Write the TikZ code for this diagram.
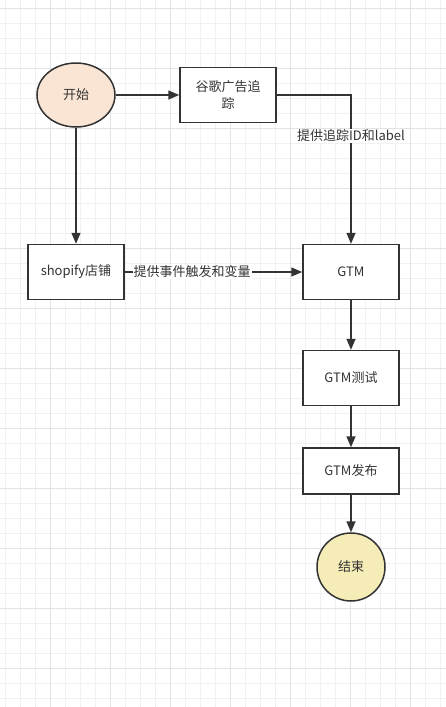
\documentclass[tikz,border=0pt]{standalone}
\usepackage{xcolor}
\usepackage{fontspec}
\setmainfont{Noto Sans CJK SC}
\usepackage{tikz}
\usetikzlibrary{calc}
\usetikzlibrary{arrows.meta}
\usetikzlibrary{shapes.geometric}

\definecolor{inkgray}{HTML}{333333}
\definecolor{gridminor}{HTML}{F1F1F1}
\definecolor{gridmajor}{HTML}{E3E3E3}
\definecolor{startfill}{HTML}{FAE4D3}
\definecolor{endfill}{HTML}{F5ECB8}

\tikzset{
  procbox/.style={draw=inkgray, line width=1.5pt, fill=white, minimum width=96pt,
    minimum height=55pt, align=center, text=inkgray, font=\fontsize{13}{17}\selectfont},
  startnode/.style={ellipse, draw=inkgray, line width=1.5pt, fill=startfill,
    minimum width=78pt, minimum height=64pt, text=inkgray, font=\fontsize{13}{16}\selectfont},
  endnode/.style={circle, draw=inkgray, line width=1.5pt, fill=endfill,
    minimum size=68pt, text=inkgray, font=\fontsize{13}{16}\selectfont},
  flowline/.style={draw=inkgray, line width=1.5pt, -{Triangle[length=11pt,width=9pt]}},
  edgelabel/.style={fill=white, inner sep=1pt, text=inkgray, font=\fontsize{13}{16}\selectfont}
}

\begin{document}
\begin{tikzpicture}[x=1pt, y=-1pt]
                \useasboundingbox (0,0) rectangle (446,707);
                \fill[white] (0,0) rectangle (446,707);

                % Drawing background grid
                \foreach \k in {0,...,29} {
                  \pgfmathsetmacro{\gx}{5+15*\k}
                  \draw[gridminor, line width=0.8pt] (\gx,0) -- (\gx,707);
                }
                \foreach \k in {0,...,46} {
                  \pgfmathsetmacro{\gy}{8+15*\k}
                  \draw[gridminor, line width=0.8pt] (0,\gy) -- (446,\gy);
                }
                \foreach \gx in {50,110,...,410}
                  \draw[gridmajor, line width=0.8pt] (\gx,0) -- (\gx,707);
                \foreach \gy in {8,68,...,700}
                  \draw[gridmajor, line width=0.8pt] (0,\gy) -- (446,\gy);

                % Drawing start and end
                \node[startnode] (start) at (76,95) {开始};
                \node[endnode] (finish) at (351,567) {结束};

                % Drawing process boxes
                \node[procbox] (gads) at (228,95) {谷歌广告追\\踪};
                \node[procbox] (shop) at (76,272) {shopify店铺};
                \node[procbox] (gtm) at (351,272) {GTM};
                \node[procbox] (gtmtest) at (351,378) {GTM测试};
                \node[procbox, minimum height=46pt] (gtmpub) at (351,471) {GTM发布};

                % Drawing connectors
                \draw[flowline] (start) -- (gads);
                \draw[flowline] (start) -- (shop);
                \draw[flowline] (gads.east) -| (gtm.north)
                  node[edgelabel, pos=0.637] {提供追踪ID和label};
                \draw[flowline] (shop) -- (gtm)
                  node[edgelabel, pos=0.38] {提供事件触发和变量};
                \draw[flowline] (gtm) -- (gtmtest);
                \draw[flowline] (gtmtest) -- (gtmpub);
                \draw[flowline] (gtmpub) -- (finish);
            \end{tikzpicture}
\end{document}
